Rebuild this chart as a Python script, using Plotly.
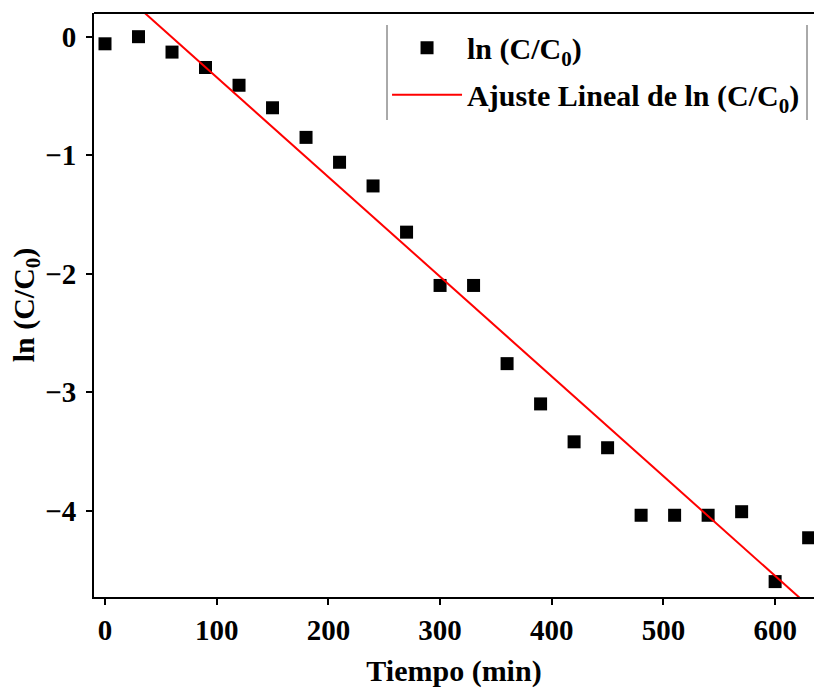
import plotly.graph_objects as go

tiempo = [0, 30, 60, 90, 120, 150, 180, 210, 240, 270, 300, 330, 360, 390, 420, 450, 480, 510, 540, 570, 600, 630]
ln_c = [-0.06, 0.0, -0.13, -0.26, -0.41, -0.60, -0.85, -1.06, -1.26, -1.65, -2.10, -2.10, -2.76, -3.10, -3.42,
        -3.47, -4.04, -4.04, -4.04, -4.01, -4.60, -4.23]
fit_x = [-10, 640]
fit_y = [0.584, -4.889]

FONT = "Liberation Serif"

fig = go.Figure()
fig.add_trace(go.Scatter(
    x=tiempo, y=ln_c, mode="markers", name="ln (C/C<sub>0</sub>)", legendgroup="a",
    marker=dict(symbol="square", size=13, color="black"),
))
fig.add_trace(go.Scatter(
    x=fit_x, y=fit_y, mode="lines", name="Ajuste Lineal de ln (C/C<sub>0</sub>)", legendgroup="b",
    line=dict(color="red", width=2),
))

axis_common = dict(
    showline=True, linecolor="black", linewidth=2, mirror=False,
    ticks="outside", ticklen=6, tickwidth=2, tickcolor="black",
    showgrid=False, zeroline=False,
    tickfont=dict(family=FONT, size=29, color="black", weight="bold"),
)

fig.update_layout(
    width=814, height=691,
    margin=dict(l=94, r=0, t=13, b=94),
    paper_bgcolor="white", plot_bgcolor="white",
    xaxis=dict(range=[-9.85, 634.8], tickvals=[0, 100, 200, 300, 400, 500, 600],
               title=dict(text="Tiempo (min)", font=dict(family=FONT, size=30, color="black", weight="bold"),
                          standoff=15),
               **axis_common),
    yaxis=dict(range=[-4.73, 0.2], tickvals=[0, -1, -2, -3, -4], ticklabelstandoff=4,
               title=dict(text="ln (C/C<sub>0</sub>)", font=dict(family=FONT, size=30, color="black", weight="bold"),
                          standoff=2),
               **axis_common),
    showlegend=True,
    legend=dict(x=0.407, y=0.985, xanchor="left", yanchor="top",
                font=dict(family=FONT, size=30, color="black", weight="bold"),
                bgcolor="rgba(255,255,255,0)", borderwidth=0,
                traceorder="grouped", tracegroupgap=5, itemwidth=70),
)
# top border line of the frame
fig.add_shape(type="line", xref="paper", yref="paper", x0=0, x1=1, y0=1, y1=1,
              line=dict(color="black", width=2))
# legend side borders
for xp in [(387 - 94) / 720, (807 - 94) / 720]:
    fig.add_shape(type="line", xref="paper", yref="paper", x0=xp, x1=xp,
                  y0=(597 - 120) / 584, y1=(597 - 25) / 584,
                  line=dict(color="#555555", width=1))

fig.write_html("out.html")
